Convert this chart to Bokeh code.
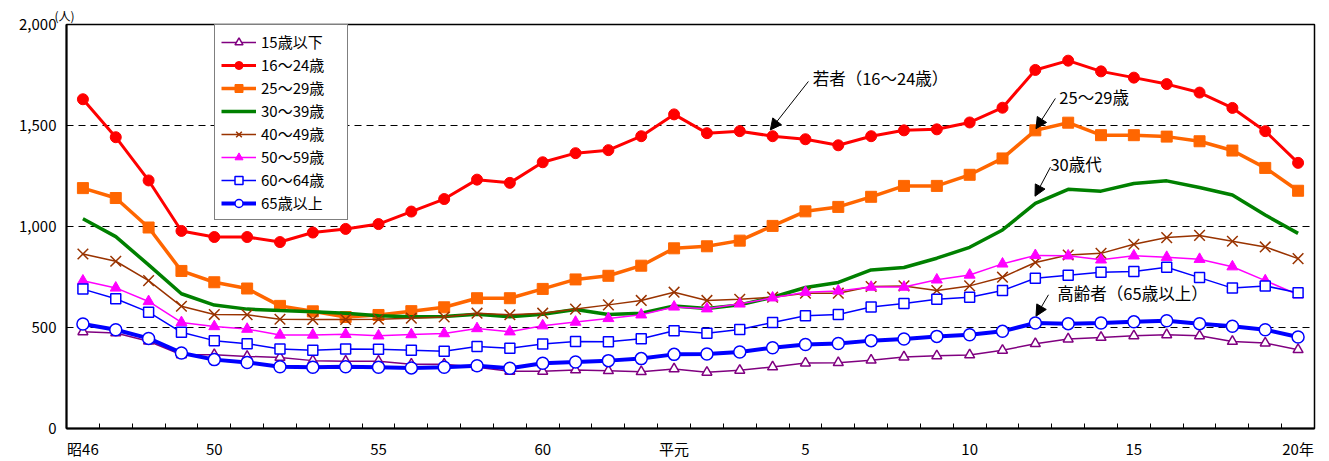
from bokeh.plotting import figure
from bokeh.models import FixedTicker, Legend, LegendItem, Label, Arrow, NormalHead, Range1d, Title
from bokeh.embed import file_html
from bokeh.resources import INLINE

FONT = "Noto Sans CJK JP"

# ---- data -------------------------------------------------------------
years = list(range(1971, 2009))

u15 = [479, 473, 432, 365, 365, 357, 352, 336, 333, 333, 318, 318, 303, 283, 283, 290, 286, 281, 295, 278,
       288, 305, 324, 326, 338, 354, 360, 364, 387, 420, 443, 451, 459, 464, 459, 431, 423, 390]
a16_24 = [1630, 1442, 1228, 978, 948, 948, 923, 970, 988, 1012, 1074, 1136, 1232, 1216, 1318, 1363, 1378, 1447,
          1555, 1462, 1472, 1447, 1432, 1402, 1447, 1476, 1481, 1515, 1588, 1775, 1821, 1768, 1737, 1705, 1663,
          1587, 1472, 1315]
a25_29 = [1190, 1141, 995, 780, 724, 693, 607, 580, 552, 562, 581, 600, 645, 645, 691, 738, 756, 806, 892, 902,
          930, 1003, 1075, 1097, 1147, 1201, 1201, 1256, 1337, 1476, 1514, 1452, 1452, 1445, 1422, 1376, 1290, 1177]
a30_39 = [1038, 950, 810, 667, 611, 591, 584, 578, 571, 558, 553, 554, 566, 553, 566, 589, 564, 571, 607, 594,
          612, 650, 698, 723, 785, 797, 843, 897, 983, 1114, 1184, 1175, 1213, 1226, 1193, 1156, 1057, 966]
a40_49 = [864, 828, 732, 605, 564, 563, 541, 540, 540, 541, 546, 552, 571, 563, 571, 591, 612, 634, 675, 634,
          640, 650, 670, 670, 703, 706, 683, 706, 749, 822, 859, 867, 912, 945, 956, 927, 899, 841]
a50_59 = [731, 696, 629, 525, 505, 492, 463, 463, 466, 459, 465, 470, 495, 479, 509, 527, 545, 563, 602, 593,
          617, 647, 675, 681, 700, 700, 736, 760, 815, 857, 855, 835, 855, 848, 838, 801, 732, 662]
a60_64 = [690, 642, 576, 476, 435, 420, 394, 387, 394, 392, 387, 383, 406, 397, 418, 431, 430, 444, 484, 471,
          490, 525, 558, 564, 602, 619, 640, 650, 683, 744, 759, 774, 777, 798, 747, 695, 706, 672]
a65 = [517, 489, 446, 374, 341, 327, 306, 303, 306, 303, 300, 303, 311, 298, 323, 329, 336, 346, 367, 369,
       379, 400, 416, 421, 435, 443, 456, 464, 481, 522, 519, 522, 528, 533, 519, 506, 489, 453]

series_labels = ["15歳以下", "16～24歳", "25～29歳", "30～39歳", "40～49歳", "50～59歳", "60～64歳", "65歳以上"]

x_tick_years = [1971, 1975, 1980, 1985, 1989, 1993, 1998, 2003, 2008]
x_tick_labels = ["昭46", "50", "55", "60", "平元", "5", "10", "15", "20年"]
y_ticks = [0, 500, 1000, 1500, 2000]
y_tick_labels = ["0", "500", "1,000", "1,500", "2,000"]
y_unit = "(人)"

notes = ["若者（16～24歳）", "25～29歳", "30歳代", "高齢者（65歳以上）"]
note_pos = [(1993.22, 1733), (2000.73, 1639), (2000.46, 1309), (2000.67, 672)]
arrow_pos = [(1993.09, 1718, 1991.93, 1478), (2000.61, 1634, 2000.02, 1484),
             (2000.46, 1294, 1999.99, 1150), (2000.40, 662, 2000.02, 556)]

# ---- figure -----------------------------------------------------------
p = figure(width=1329, height=461, x_range=Range1d(1970.5, 2008.5), y_range=Range1d(0, 2000),
           output_backend="svg", toolbar_location=None,
           min_border_left=66, min_border_right=15, min_border_top=24, min_border_bottom=32,
           background_fill_color="white", border_fill_color="white")

p.outline_line_color = "black"
p.outline_line_width = 1.5

# unit label above the y axis
p.add_layout(Title(text=y_unit, align="left", offset=-12, standoff=1, text_font=FONT,
                   text_font_size="12px", text_font_style="normal", text_color="black"), "above")

# x axis
p.xaxis.ticker = FixedTicker(ticks=x_tick_years, minor_ticks=[y + 0.5 for y in years[:-1]])
p.xaxis.major_label_overrides = {y: l for y, l in zip(x_tick_years, x_tick_labels)}
p.xaxis.major_tick_in = 0
p.xaxis.major_tick_out = 0
p.xaxis.minor_tick_in = 5
p.xaxis.minor_tick_out = 0
p.xaxis.minor_tick_line_color = "black"
p.xaxis.axis_line_color = "black"
p.xaxis.axis_line_width = 2
p.xaxis.major_label_standoff = 9
p.xaxis.major_label_text_font = FONT
p.xaxis.major_label_text_font_size = "15px"
p.xaxis.major_label_text_color = "black"

# y axis
p.yaxis.ticker = FixedTicker(ticks=y_ticks)
p.yaxis.major_label_overrides = {t: l for t, l in zip(y_ticks, y_tick_labels)}
p.yaxis.major_tick_in = 0
p.yaxis.major_tick_out = 0
p.yaxis.minor_tick_line_color = None
p.yaxis.axis_line_color = "black"
p.yaxis.axis_line_width = 2
p.yaxis.major_label_standoff = 10
p.yaxis.major_label_text_font = FONT
p.yaxis.major_label_text_font_size = "15px"
p.yaxis.major_label_text_color = "black"

p.xgrid.visible = False
p.ygrid.ticker = FixedTicker(ticks=[500, 1000, 1500])
p.ygrid.grid_line_color = "black"
p.ygrid.grid_line_dash = "7 5"
p.ygrid.grid_line_width = 1

# ---- series -----------------------------------------------------------
styles = [
    # values, color, line width, marker, size, fill, marker line width
    (u15, "#800080", 1.5, "triangle", 10, "white", 1.5),
    (a16_24, "#FF0000", 3, "circle", 11, "#FF0000", 1),
    (a25_29, "#FF6600", 3.5, "square", 11, "#FF6600", 1),
    (a30_39, "#008000", 3.5, None, 0, None, 0),
    (a40_49, "#993300", 1.5, "x", 15, None, 1.5),
    (a50_59, "#FF00FF", 1.5, "triangle", 11, "#FF00FF", 1),
    (a60_64, "#0000FF", 1.5, "square", 10, "white", 1.5),
    (a65, "#0000FF", 4, "circle", 12, "white", 1.5),
]

items = []
for label, (vals, col, lw, mk, sz, fill, mlw) in zip(series_labels, styles):
    rs = [p.line(years, vals, line_color=col, line_width=lw)]
    if mk is not None:
        if mk == "x":
            rs.append(p.scatter(years, vals, marker="x", size=sz, line_color=col, line_width=mlw))
        else:
            rs.append(p.scatter(years, vals, marker=mk, size=sz, fill_color=fill, line_color=col,
                                line_width=mlw))
    items.append(LegendItem(label=label, renderers=rs))

legend = Legend(items=items, location=(148, 208), orientation="vertical",
                label_text_font=FONT, label_text_font_size="15px", label_text_color="black",
                glyph_width=35, glyph_height=20, label_height=20, label_width=80, spacing=2, padding=6,
                label_standoff=5, margin=0,
                border_line_color="black", border_line_width=1,
                background_fill_color="white", background_fill_alpha=1)
p.add_layout(legend, "center")

# ---- annotations ------------------------------------------------------
for txt, (tx, ty) in zip(notes, note_pos):
    p.add_layout(Label(x=tx, y=ty, text=txt, text_font=FONT, text_font_size="16.5px",
                       text_align="left", text_baseline="middle", text_color="black"))
for (xs, ys, xe, ye) in arrow_pos:
    p.add_layout(Arrow(end=NormalHead(size=11, fill_color="black", line_color="black"),
                       x_start=xs, y_start=ys, x_end=xe, y_end=ye,
                       line_color="black", line_width=1))

open("out.html", "w").write(file_html(p, INLINE))
